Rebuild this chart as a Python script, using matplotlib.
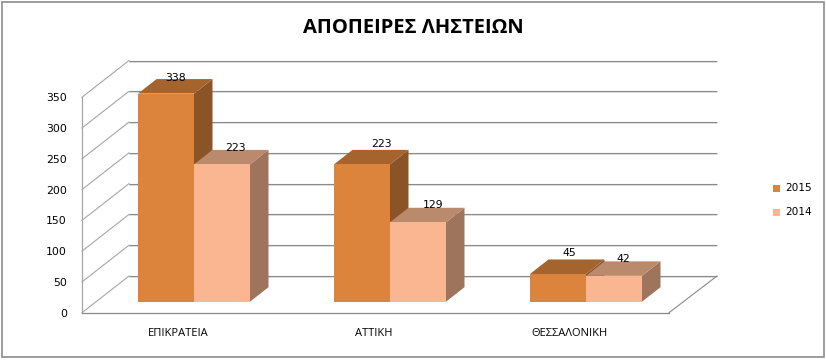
import matplotlib
matplotlib.use("Agg")
import matplotlib.pyplot as plt
from matplotlib.patches import Polygon, Rectangle
from matplotlib.transforms import ScaledTranslation

title = "ΑΠΟΠΕΙΡΕΣ ΛΗΣΤΕΙΩΝ"
categories = ["ΕΠΙΚΡΑΤΕΙΑ", "ΑΤΤΙΚΗ", "ΘΕΣΣΑΛΟΝΙΚΗ"]
series_names = ["2015", "2014"]
values_2015 = [338, 223, 45]
values_2014 = [223, 129, 42]
y_ticks = [0, 50, 100, 150, 200, 250, 300, 350]

# label placement relative to each bar's top centre (pixels)
label_pos_2015 = [(-18, 16), (-9, 20), (-16.5, 21)]
label_pos_2014 = [(41, 16), (43, 17), (37.5, 17)]

W, H = 826, 360
PX_PER_UNIT = 0.6157
PX_PER_CAT = 196.0
CENTER0 = 194.0
BASE_Y = 301.7

fig = plt.figure(figsize=(W / 100, H / 100), dpi=100, facecolor="white")
ax = fig.add_axes([0, 0, 1, 1])
ax.set_xlim(-CENTER0 / PX_PER_CAT, (W - CENTER0) / PX_PER_CAT)
ax.set_ylim(-(H - BASE_Y) / PX_PER_UNIT, BASE_Y / PX_PER_UNIT)
ax.axis("off")

dx = lambda p: p / PX_PER_CAT
dy = lambda p: p / PX_PER_UNIT
X = lambda px: (px - CENTER0) / PX_PER_CAT
Y0 = lambda py: (BASE_Y - py) / PX_PER_UNIT

# outer border
ax.add_patch(Rectangle((X(1.5), Y0(356.5)), dx(822.5), dy(355), fill=False,
                       ec="#8c8c8c", lw=1.2, zorder=1))

# chart frame
FL, BL, FR, BR = X(82), X(129), X(669), X(717)
front0, back0 = Y0(312.7), Y0(276)
GRID, SHADOW, WALL = "#8a8a8a", "#dcdcdc", "#a6a6a6"
shift = ax.transData + ScaledTranslation(0, -1 / 100, fig.dpi_scale_trans)
top = y_ticks[-1]
for v in y_ticks:
    ax.plot([BL, BR], [back0 + v, back0 + v], color=SHADOW, lw=1.2, zorder=1.5,
            solid_capstyle="butt", transform=shift)
    ax.plot([BL, BR], [back0 + v, back0 + v], color=GRID, lw=0.8, zorder=2,
            solid_capstyle="butt")
    ax.plot([FL, BL], [front0 + v, back0 + v], color=WALL, lw=0.8, zorder=2)
    ax.text(X(67), front0 + v - dy(1), str(v), ha="right", va="center", fontsize=7.8,
            color="black", family="DejaVu Sans", zorder=6)
ax.plot([FL, FL], [front0, front0 + top], color=WALL, lw=0.9, zorder=2)
ax.plot([FL, FR], [front0, front0], color=GRID, lw=0.9, zorder=2)
ax.plot([FR, BR], [front0, back0], color=GRID, lw=0.8, zorder=2)

# bars
BAR_W, DEPTH_X, DEPTH_Y = 56.0, 18.5, 14.5
def bar(cat, side, v, front, top_c, side_c):
    x0 = cat + dx(BAR_W) * side
    x1 = x0 + dx(BAR_W)
    ex, ey = dx(DEPTH_X), dy(DEPTH_Y)
    z = 3 + side * 0.1
    ax.add_patch(Polygon([(x1, 0), (x1 + ex, ey), (x1 + ex, v + ey), (x1, v)],
                         closed=True, fc=side_c, ec="none", zorder=z))
    ax.add_patch(Polygon([(x0, v), (x0 + ex, v + ey), (x1 + ex, v + ey), (x1, v)],
                         closed=True, fc=top_c, ec="none", zorder=z))
    ax.add_patch(Rectangle((x0, 0), dx(BAR_W), v, fc=front, ec="none", zorder=z + 0.05))

C15 = ("#dc843c", "#a5632d", "#8b5427")
C14 = ("#fab691", "#bb8a6d", "#9f745c")
for i, (a, b) in enumerate(zip(values_2015, values_2014)):
    bar(i, -1, a, *C15)
    bar(i, 0, b, *C14)
    ox, oy = label_pos_2015[i]
    ax.text(i + dx(ox), a + dy(oy), str(a), ha="center", va="center", fontsize=7.8,
            family="DejaVu Sans", zorder=6)
    ox, oy = label_pos_2014[i]
    ax.text(i + dx(ox), b + dy(oy), str(b), ha="center", va="center", fontsize=7.8,
            family="DejaVu Sans", zorder=6)
    ax.text(i - dx(16), Y0(334), categories[i], ha="center", va="center", fontsize=8,
            family="Open Sans", fontweight="medium", color="black", zorder=6)

# legend
for name, c, py in zip(series_names, (C15[0], C14[0]), (188, 212)):
    ax.add_patch(Rectangle((X(773), Y0(py + 3.5)), dx(7), dy(7), fc=c, ec="none", zorder=6))
    ax.text(X(785), Y0(py), name, ha="left", va="center", fontsize=7.6,
            family="DejaVu Sans", zorder=6)

ax.text(X(413), Y0(28), title, ha="center", va="center", fontsize=14.5, fontweight="bold",
        family="Open Sans", zorder=6)

fig.savefig("out.png", dpi=100)
